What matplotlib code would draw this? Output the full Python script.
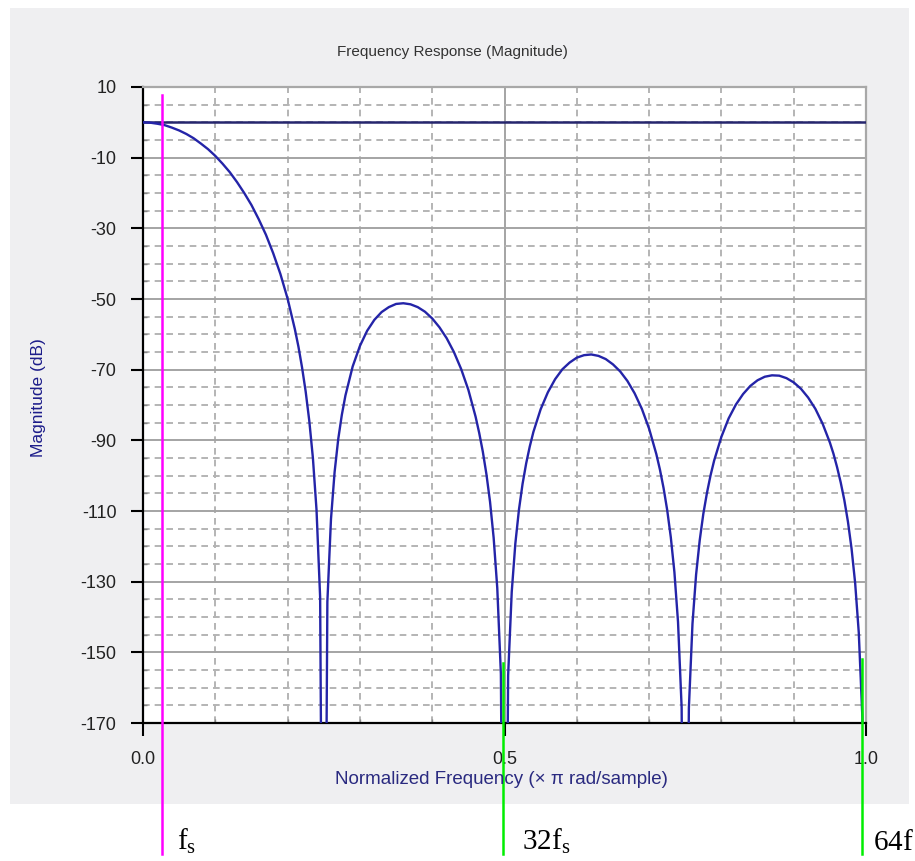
import matplotlib
matplotlib.use("Agg")
import matplotlib.pyplot as plt
from matplotlib.patches import Rectangle
from matplotlib.ticker import MultipleLocator, FixedLocator

plt.rcParams['font.family'] = ['Liberation Sans', 'DejaVu Sans']
plt.rcParams['mathtext.fontset'] = 'custom'
plt.rcParams['mathtext.rm'] = 'Liberation Serif'
plt.rcParams['mathtext.it'] = 'Liberation Serif:italic'
plt.rcParams['lines.scale_dashes'] = False
plt.rcParams['axes.unicode_minus'] = False

# ---- data ----
# passband / main lobe
freq_a = [0.00, 0.01, 0.02, 0.03, 0.04, 0.05, 0.06, 0.07, 0.08, 0.09, 0.10,
          0.11, 0.12, 0.13, 0.14, 0.15, 0.16, 0.17, 0.18, 0.19, 0.20, 0.21,
          0.215, 0.22, 0.225, 0.23, 0.235, 0.24, 0.245, 0.25]
db_a = [0.0, -0.1, -0.4, -0.8, -1.5, -2.3, -3.3, -4.5, -6.0, -7.6, -9.5,
        -11.7, -14.1, -16.9, -20.0, -23.4, -27.4, -31.8, -37.0, -42.9, -49.9, -58.5,
        -63.5, -69.4, -76.2, -84.5, -95.0, -109.7, -134.4, -300.0]
# first side lobe
freq_b = [0.255, 0.26, 0.265, 0.27, 0.275, 0.28, 0.29, 0.30, 0.31, 0.32, 0.33,
          0.34, 0.35, 0.36, 0.37, 0.38, 0.39, 0.40, 0.41, 0.42, 0.43, 0.44,
          0.45, 0.46, 0.465, 0.47, 0.475, 0.48, 0.485, 0.49, 0.495, 0.50]
db_b = [-135.7, -112.3, -99.0, -89.7, -82.8, -77.3, -69.1, -63.3, -59.0, -55.9, -53.7,
        -52.3, -51.4, -51.2, -51.5, -52.3, -53.6, -55.5, -58.0, -61.1, -65.0, -69.8,
        -75.7, -83.3, -87.9, -93.2, -99.6, -107.4, -117.6, -131.8, -156.1, -300.0]
# second side lobe
freq_c = [0.505, 0.51, 0.515, 0.52, 0.525, 0.53, 0.535, 0.54, 0.55, 0.56, 0.57,
          0.58, 0.59, 0.60, 0.61, 0.62, 0.63, 0.64, 0.65, 0.66, 0.67, 0.68,
          0.69, 0.70, 0.71, 0.715, 0.72, 0.725, 0.73, 0.735, 0.74, 0.745, 0.75]
db_c = [-156.6, -132.9, -119.2, -109.6, -102.3, -96.5, -91.7, -87.6, -81.2, -76.4, -72.7,
        -69.9, -68.0, -66.6, -65.9, -65.7, -66.1, -67.0, -68.5, -70.5, -73.2, -76.7,
        -81.1, -86.7, -93.9, -98.3, -103.5, -109.7, -117.4, -127.3, -141.4, -165.6, -300.0]
# third side lobe
freq_d = [0.755, 0.76, 0.765, 0.77, 0.775, 0.78, 0.785, 0.79, 0.80, 0.81, 0.82,
          0.83, 0.84, 0.85, 0.86, 0.87, 0.88, 0.89, 0.90, 0.91, 0.92, 0.93,
          0.94, 0.95, 0.955, 0.96, 0.965, 0.97, 0.975, 0.98, 0.985, 0.99, 0.995, 1.00]
db_d = [-165.8, -141.9, -128.0, -118.3, -110.8, -104.9, -99.9, -95.7, -89.0, -83.8, -79.9,
        -76.9, -74.6, -73.0, -72.0, -71.6, -71.7, -72.4, -73.6, -75.4, -77.9, -81.1,
        -85.3, -90.6, -93.8, -97.6, -101.9, -106.9, -113.0, -120.6, -130.4, -144.4, -168.4, -300.0]

ref_freq = [0.0, 1.0]
ref_db = [0.0, 0.0]

marker_freqs = [0.026, 0.498, 0.994]
marker_tops = [7.7, -153.0, -152.0]
marker_bottom = -207.0
marker_colors = ['#ff00ff', '#00ee00', '#00ee00']
marker_labels = [r'$\mathrm{f_s}$', r'$\mathrm{32f_s}$', r'$\mathrm{64f}$']
label_freqs = [0.047, 0.524, 1.010]

y_major = [10, -10, -30, -50, -70, -90, -110, -130, -150, -170]
x_major = [0.0, 0.5, 1.0]
x_labels = ['0.0', '0.5', '1.0']

freq = freq_a + freq_b + freq_c + freq_d
mag_db = db_a + db_b + db_c + db_d

# ---- figure ----
W, H = 915, 861
fig = plt.figure(figsize=(W / 100, H / 100), dpi=100)
fig.patch.set_facecolor('white')
fig.patches.append(Rectangle((10 / W, 1 - 804 / H), (909 - 10) / W, (804 - 8) / H,
                             transform=fig.transFigure, facecolor='#efeff1',
                             edgecolor='none', zorder=-10))

ax = fig.add_axes([143 / W, 1 - 723 / H, (866 - 143) / W, (723 - 87) / H])
ax.set_zorder(1)
ax.set_facecolor('white')
ax.set_xlim(0, 1.0)
ax.set_ylim(-170, 10)

# grid
ax.xaxis.set_major_locator(FixedLocator(x_major))
ax.xaxis.set_minor_locator(MultipleLocator(0.1))
ax.yaxis.set_major_locator(FixedLocator(y_major))
ax.yaxis.set_minor_locator(MultipleLocator(5))
ax.grid(True, which='major', color='#a4a4a4', linewidth=1.4, linestyle='-', zorder=1)
ax.grid(True, which='minor', color='#b4b4b4', linewidth=1.4,
        linestyle=(0, (4.8, 3.6)), zorder=1)
ax.set_axisbelow(True)

ax.set_xticks(x_major)
ax.set_xticklabels(x_labels)
ax.tick_params(axis='both', which='major', direction='out', length=9, width=1.5,
               color='black', labelsize=13, labelcolor='#222222')
ax.tick_params(axis='y', which='major', pad=10)
ax.tick_params(axis='x', which='major', pad=11)
ax.tick_params(axis='both', which='minor', direction='in', length=3, width=1.0,
               color='#888888')

for s in ['left', 'bottom']:
    ax.spines[s].set_color('black')
    ax.spines[s].set_linewidth(1.6)
for s in ['top', 'right']:
    ax.spines[s].set_color('#a8a8a8')
    ax.spines[s].set_linewidth(1.6)

# data lines
ax.plot(ref_freq, ref_db, color='#26266e', linewidth=1.8, zorder=3)
ax.plot(freq, mag_db, color='#2424a8', linewidth=1.7, zorder=4)

fig.text(452 / W, 1 - 52 / H, 'Frequency Response (Magnitude)', fontsize=11,
         color='#333333', ha='center', va='center')
fig.text(501 / W, 1 - 780 / H, 'Normalized Frequency (\u00d7 \u03c0 rad/sample)',
         fontsize=13.5, color='#2a2a80', ha='center', va='center')
fig.text(38 / W, 1 - 398 / H, 'Magnitude (dB)', fontsize=12.5, color='#1c1c8a',
         ha='center', va='center', rotation=90)

# marker lines extending below the axes
for f, top, c in zip(marker_freqs, marker_tops, marker_colors):
    ax.plot([f, f], [top, marker_bottom], color=c, linewidth=1.8,
            clip_on=False, zorder=6)
for f, lab in zip(label_freqs, marker_labels):
    ax.text(f, marker_bottom + 1, lab, fontsize=21, color='black',
            ha='left', va='baseline', clip_on=False)

fig.savefig('out.png', dpi=100)
